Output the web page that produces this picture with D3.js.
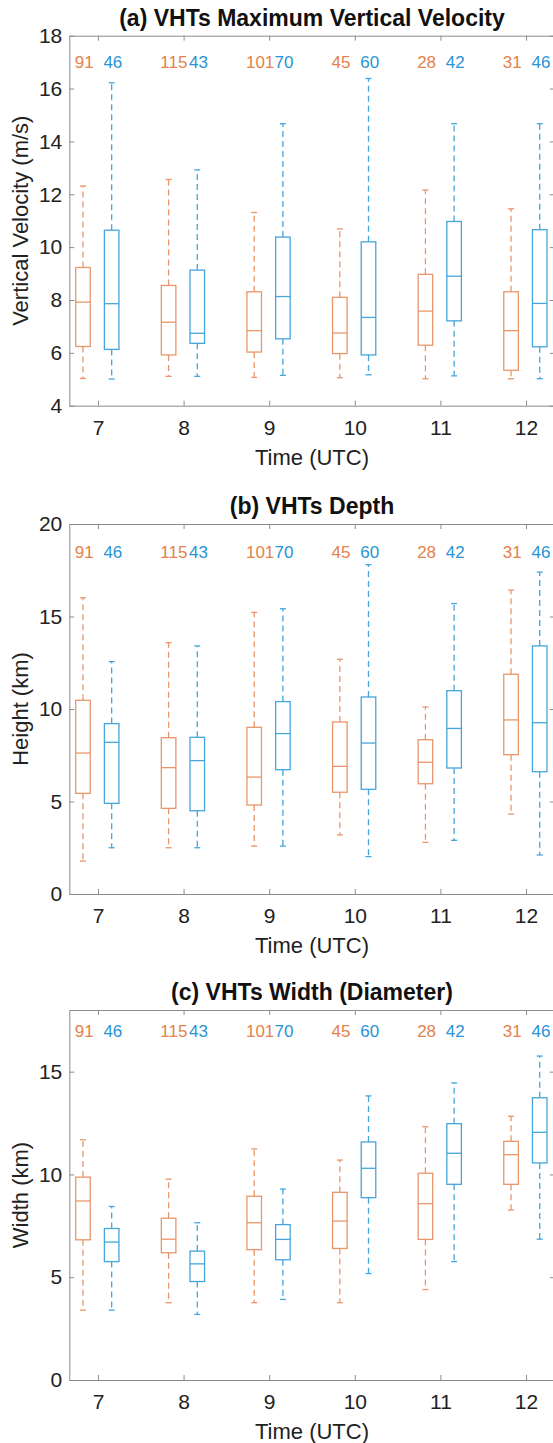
<!DOCTYPE html>
<html>
<head>
<meta charset="utf-8">
<script src="https://cdn.jsdelivr.net/npm/d3@7"></script>
<style>
  body { margin: 0; background: #fff; }
  svg { display: block; font-family: "Liberation Sans", Arial, sans-serif; }
</style>
</head>
<body>
<div id="chart"></div>
<script>
// Hours on the x axis and the sample counts written above each box
const hours = [7, 8, 9, 10, 11, 12];
const countsOrange = [91, 115, 101, 45, 28, 31];
const countsBlue = [46, 43, 70, 60, 42, 46];

// Box statistics per hour: [lower whisker, q1, median, q3, upper whisker]
const velocityOrange = [[5.03, 6.24, 7.92, 9.23, 12.31], [5.11, 5.92, 7.16, 8.55, 12.56], [5.07, 6.03, 6.84, 8.31, 11.31],
    [5.06, 5.97, 6.75, 8.10, 10.69], [5.02, 6.29, 7.58, 8.97, 12.16], [5.02, 5.34, 6.84, 8.31, 11.45]];
const velocityBlue = [[5.01, 6.13, 7.86, 10.64, 16.22], [5.11, 6.36, 6.74, 9.13, 12.92], [5.15, 6.53, 8.13, 10.38, 14.67],
    [5.17, 5.92, 7.34, 10.20, 16.38], [5.13, 7.21, 8.90, 10.97, 14.67], [5.02, 6.23, 7.87, 10.66, 14.67]];

const depthOrange = [[1.78, 5.44, 7.62, 10.47, 16.01], [2.50, 4.63, 6.83, 8.45, 13.59], [2.59, 4.81, 6.32, 9.01, 15.22],
    [3.19, 5.50, 6.90, 9.30, 12.69], [2.79, 5.96, 7.12, 8.34, 10.11], [4.32, 7.53, 9.41, 11.88, 16.43]];
const depthBlue = [[2.50, 4.90, 8.20, 9.21, 12.56], [2.50, 4.50, 7.21, 8.47, 13.41], [2.59, 6.72, 8.67, 10.40, 15.42],
    [2.02, 5.66, 8.16, 10.65, 17.80], [2.90, 6.81, 8.95, 10.99, 15.70], [2.11, 6.61, 9.26, 13.41, 17.40]];

const widthOrange = [[3.40, 6.82, 8.71, 9.87, 11.69], [3.76, 6.19, 6.85, 7.87, 9.77], [3.76, 6.34, 7.65, 8.94, 11.24],
    [3.76, 6.40, 7.73, 9.13, 10.70], [4.40, 6.84, 8.58, 10.06, 12.32], [8.27, 9.52, 10.96, 11.61, 12.83]];
const widthBlue = [[3.40, 5.76, 6.71, 7.37, 8.44], [3.19, 4.79, 5.65, 6.27, 7.65], [3.92, 5.85, 6.84, 7.56, 9.29],
    [5.18, 8.87, 10.30, 11.58, 13.82], [5.76, 9.52, 11.03, 12.47, 14.45], [6.85, 10.56, 12.05, 13.73, 15.76]];

const velocityTicks = [4, 6, 8, 10, 12, 14, 16, 18];
const depthTicks = [0, 5, 10, 15, 20];
const widthTicks = [0, 5, 10, 15];

const W = 553, H = 1443;
const orangeLine = "#e9966a", blueLine = "#45a5dc";
const orangeText = "#e3824b", blueText = "#2a93d5";
const axisColor = "#8c8c8c", textColor = "#222";

const panels = [
    { title: "(a) VHTs Maximum Vertical Velocity", ylabel: "Vertical Velocity (m/s)", top: 35.7,
      ydom: [4, 18], ticks: velocityTicks, countY: 17, orange: velocityOrange, blue: velocityBlue },
    { title: "(b) VHTs Depth", ylabel: "Height (km)", top: 524,
      ydom: [0, 20], ticks: depthTicks, countY: 18.5, orange: depthOrange, blue: depthBlue },
    { title: "(c) VHTs Width (Diameter)", ylabel: "Width (km)", top: 1010,
      ydom: [0, 18], ticks: widthTicks, countY: 17, orange: widthOrange, blue: widthBlue }
];

const plotH = 370;
const left = 69.3, right = 554.7;
const offOrange = -0.175, offBlue = 0.16, boxW = 0.17, capW = 0.07;

const svg = d3.select("#chart").append("svg")
    .attr("width", W)
    .attr("height", H);

svg.append("rect").attr("width", W).attr("height", H).attr("fill", "#fff");

const x = d3.scaleLinear().domain([6.665, 12.335]).range([left, right]);

panels.forEach(p => {
    const y = d3.scaleLinear().domain(p.ydom).range([p.top + plotH, p.top]);
    const g = svg.append("g");

    // axes, ticks pointing inward like matlab
    const bottom = g.append("g")
        .attr("transform", `translate(0,${p.top + plotH})`)
        .call(d3.axisBottom(x).tickValues(hours).tickFormat(d3.format("d"))
            .tickSizeInner(-5).tickSizeOuter(0).tickPadding(14));
    const topAx = g.append("g")
        .attr("transform", `translate(0,${p.top})`)
        .call(d3.axisTop(x).tickValues(hours).tickSizeInner(-5).tickSizeOuter(0).tickFormat(""));
    const leftAx = g.append("g")
        .attr("transform", `translate(${left},0)`)
        .call(d3.axisLeft(y).tickValues(p.ticks).tickSizeInner(-5).tickSizeOuter(0).tickPadding(7));
    const rightAx = g.append("g")
        .attr("transform", `translate(${right},0)`)
        .call(d3.axisRight(y).tickValues(p.ticks).tickSizeInner(-5).tickSizeOuter(0).tickFormat(""));

    [bottom, topAx, leftAx, rightAx].forEach(a => {
        a.selectAll("path, line").attr("stroke", axisColor);
        a.selectAll("text").attr("fill", textColor).style("font-size", "21px");
    });

    // title and axis labels
    g.append("text")
        .attr("x", (left + right) / 2)
        .attr("y", p.top - 10)
        .attr("text-anchor", "middle")
        .style("font-size", "23px")
        .style("font-weight", "bold")
        .attr("fill", "#111")
        .text(p.title);

    g.append("text")
        .attr("x", (left + right) / 2)
        .attr("y", p.top + plotH + 59)
        .attr("text-anchor", "middle")
        .style("font-size", "22px")
        .attr("fill", textColor)
        .text("Time (UTC)");

    g.append("text")
        .attr("transform", `translate(28,${p.top + plotH / 2}) rotate(-90)`)
        .attr("text-anchor", "middle")
        .style("font-size", "22px")
        .attr("fill", textColor)
        .text(p.ylabel);

    // boxes
    const series = [
        { stats: p.orange, off: offOrange, line: orangeLine, txt: orangeText, counts: countsOrange },
        { stats: p.blue, off: offBlue, line: blueLine, txt: blueText, counts: countsBlue }
    ];

    series.forEach(s => {
        const box = g.selectAll(null)
            .data(s.stats.map((d, i) => ({ h: hours[i], d: d, n: s.counts[i] })))
            .enter().append("g");

        const cx = d => x(d.h + s.off);
        const half = (x(boxW) - x(0)) / 2;
        const capHalf = (x(capW) - x(0)) / 2;

        // dashed whiskers
        box.append("line")
            .attr("x1", cx).attr("x2", cx)
            .attr("y1", d => y(d.d[3])).attr("y2", d => y(d.d[4]))
            .attr("stroke", s.line).attr("stroke-width", 1.3)
            .attr("stroke-dasharray", "6,4");
        box.append("line")
            .attr("x1", cx).attr("x2", cx)
            .attr("y1", d => y(d.d[1])).attr("y2", d => y(d.d[0]))
            .attr("stroke", s.line).attr("stroke-width", 1.3)
            .attr("stroke-dasharray", "6,4");

        // caps
        [0, 4].forEach(k => {
            box.append("line")
                .attr("x1", d => cx(d) - capHalf).attr("x2", d => cx(d) + capHalf)
                .attr("y1", d => y(d.d[k])).attr("y2", d => y(d.d[k]))
                .attr("stroke", s.line).attr("stroke-width", 1.3);
        });

        box.append("rect")
            .attr("x", d => cx(d) - half)
            .attr("width", half * 2)
            .attr("y", d => y(d.d[3]))
            .attr("height", d => y(d.d[1]) - y(d.d[3]))
            .attr("fill", "none")
            .attr("stroke", s.line).attr("stroke-width", 1.3);

        box.append("line")
            .attr("x1", d => cx(d) - half).attr("x2", d => cx(d) + half)
            .attr("y1", d => y(d.d[2])).attr("y2", d => y(d.d[2]))
            .attr("stroke", s.line).attr("stroke-width", 1.3);

        // counts, left aligned on the box edge
        box.append("text")
            .attr("x", d => cx(d) - half - 1)
            .attr("y", y(p.countY))
            .attr("dy", "0.36em")
            .style("font-size", "17px")
            .attr("fill", s.txt)
            .text(d => d.n);
    });
});
</script>
</body>
</html>
